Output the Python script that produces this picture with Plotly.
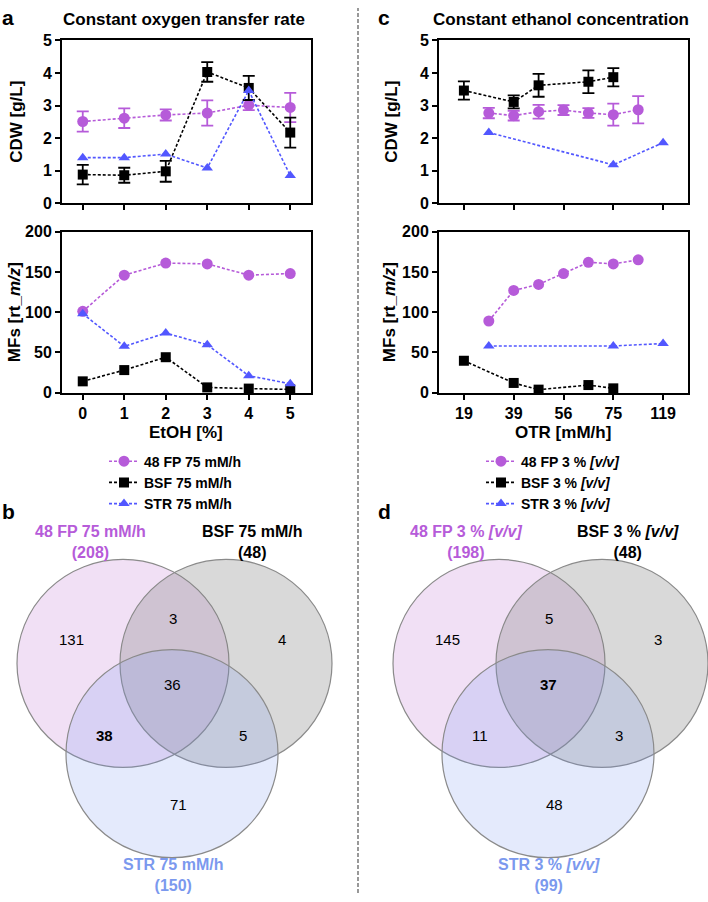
import plotly.graph_objects as go

W, H = 708, 902

# ---------------- data ----------------
etoh_labels = ["0", "1", "2", "3", "4", "5"]
etoh_pos = [0, 1, 2, 3, 4, 5]
cdw_ticks = [0, 1, 2, 3, 4, 5]
mf_ticks = [0, 50, 100, 150, 200]

# panel a : constant OTR (75 mM/h)
a_cdw_fp = [2.51, 2.61, 2.71, 2.77, 3.01, 2.94]
a_cdw_fp_err = [0.31, 0.30, 0.17, 0.39, 0.15, 0.45]
a_cdw_bsf = [0.88, 0.86, 0.98, 4.03, 3.54, 2.17]
a_cdw_bsf_err = [0.30, 0.23, 0.32, 0.30, 0.37, 0.46]
a_cdw_str = [1.40, 1.40, 1.51, 1.08, 3.46, 0.85]
a_mf_fp = [101, 146, 161, 160, 146, 148]
a_mf_bsf = [14, 28, 44, 6.5, 5, 4]
a_mf_str = [98, 57.5, 74, 59.5, 21, 11]

# panel c : constant ethanol (3 % v/v); x = position on the OTR axis
otr_labels = ["19", "39", "56", "75", "119"]
otr_ticks = [0, 1, 2, 3, 4]
c_fp_pos = [0.5, 1, 1.5, 2, 2.5, 3, 3.5]
c_bsf_pos = [0, 1, 1.5, 2.5, 3]
c_str_pos = [0.5, 3, 4]
c_cdw_fp = [2.77, 2.69, 2.81, 2.86, 2.77, 2.72, 2.87]
c_cdw_fp_err = [0.16, 0.15, 0.21, 0.15, 0.15, 0.34, 0.42]
c_cdw_bsf = [3.46, 3.11, 3.62, 3.73, 3.87]
c_cdw_bsf_err = [0.28, 0.20, 0.35, 0.35, 0.28]
c_cdw_str = [2.17, 1.18, 1.86]
c_mf_fp = [89, 127, 134.5, 148, 162, 160, 165]
c_mf_bsf = [39.6, 12, 3.7, 9.4, 5.3]
c_mf_str = [58, 58, 61]

# Venn counts: [only A, only B, only C, A&B, A&C, B&C, A&B&C]
venn_b_names = ["48 FP 75 mM/h", "BSF 75 mM/h", "STR 75 mM/h"]
venn_b_totals = [208, 48, 150]
venn_b_counts = [131, 4, 71, 3, 38, 5, 36]
venn_b_bold = 4
venn_d_names = ["48 FP 3 % <i>[v/v]</i>", "BSF 3 % <i>[v/v]</i>", "STR 3 % <i>[v/v]</i>"]
venn_d_totals = [198, 48, 99]
venn_d_counts = [145, 3, 48, 5, 11, 3, 37]
venn_d_bold = 6

legend_a = ["48 FP 75 mM/h", "BSF 75 mM/h", "STR 75 mM/h"]
legend_c = ["48 FP 3 % <i>[v/v]</i>", "BSF 3 % <i>[v/v]</i>", "STR 3 % <i>[v/v]</i>"]

# ---------------- style ----------------
PURPLE = "#b65bd9"
BLACK = "#000000"
BLUE = "#5257ff"
FONT = "Liberation Sans, Arial, sans-serif"
DASH = "3px,2px"


def px(x):
    return x / W


def py(y):
    return 1 - y / H


def b(s):
    return f"<b>{s}</b>"


fig = go.Figure()

series_style = {
    "fp": dict(color=PURPLE, symbol="circle", size=11),
    "bsf": dict(color=BLACK, symbol="square", size=10),
    "str": dict(color=BLUE, symbol="triangle-up", size=10),
}


def add(x, y, key, xa, ya, name, err=None, legend=None):
    st = series_style[key]
    tr = dict(
        x=x, y=y, mode="lines+markers", name=b(name),
        line=dict(color=st["color"], width=1.6, dash=DASH),
        marker=dict(color=st["color"], symbol=st["symbol"], size=st["size"]),
        xaxis=xa, yaxis=ya, cliponaxis=False,
        showlegend=legend is not None,
    )
    if legend is not None:
        tr["legend"] = legend
    if err is not None:
        tr["error_y"] = dict(type="data", array=err, color=st["color"], thickness=1.8, width=6)
    fig.add_trace(go.Scatter(**tr))


# panel a
add(etoh_pos, a_cdw_fp, "fp", "x", "y", legend_a[0], a_cdw_fp_err, "legend")
add(etoh_pos, a_cdw_bsf, "bsf", "x", "y", legend_a[1], a_cdw_bsf_err, "legend")
add(etoh_pos, a_cdw_str, "str", "x", "y", legend_a[2], None, "legend")
add(etoh_pos, a_mf_fp, "fp", "x2", "y2", legend_a[0])
add(etoh_pos, a_mf_bsf, "bsf", "x2", "y2", legend_a[1])
add(etoh_pos, a_mf_str, "str", "x2", "y2", legend_a[2])
# panel c
add(c_fp_pos, c_cdw_fp, "fp", "x3", "y3", legend_c[0], c_cdw_fp_err, "legend2")
add(c_bsf_pos, c_cdw_bsf, "bsf", "x3", "y3", legend_c[1], c_cdw_bsf_err, "legend2")
add(c_str_pos, c_cdw_str, "str", "x3", "y3", legend_c[2], None, "legend2")
add(c_fp_pos, c_mf_fp, "fp", "x4", "y4", legend_c[0])
add(c_bsf_pos, c_mf_bsf, "bsf", "x4", "y4", legend_c[1])
add(c_str_pos, c_mf_str, "str", "x4", "y4", legend_c[2])

# ---------------- axes ----------------
left_dom = [px(62), px(311)]
right_dom = [px(439), px(688)]
top_dom = [py(199), py(33)]
bot_dom = [py(392), py(228)]

common = dict(
    showline=True, linecolor="black", linewidth=2, mirror=True,
    ticks="outside", ticklen=5, tickwidth=2, tickcolor="black",
    showgrid=False, zeroline=False,
)
tick_font = dict(family=FONT, size=16, color="black")


def yax(dom, anchor, rng, ticks):
    return dict(domain=dom, anchor=anchor, range=rng, tickvals=ticks,
                ticktext=[b(t) for t in ticks], tickfont=tick_font, **common)


fig.update_layout(
    xaxis=dict(domain=left_dom, anchor="y", range=[-0.5, 5.5], tickvals=etoh_pos,
               showticklabels=False, **common),
    yaxis=yax(top_dom, "x", [0, 5], cdw_ticks),
    xaxis2=dict(domain=left_dom, anchor="y2", range=[-0.5, 5.5], tickvals=etoh_pos,
                ticktext=[b(t) for t in etoh_labels], tickfont=tick_font, **common),
    yaxis2=yax(bot_dom, "x2", [0, 200], mf_ticks),
    xaxis3=dict(domain=right_dom, anchor="y3", range=[-0.5, 4.5], tickvals=otr_ticks,
                showticklabels=False, **common),
    yaxis3=yax(top_dom, "x3", [0, 5], cdw_ticks),
    xaxis4=dict(domain=right_dom, anchor="y4", range=[-0.5, 4.5], tickvals=otr_ticks,
                ticktext=[b(t) for t in otr_labels], tickfont=tick_font, **common),
    yaxis4=yax(bot_dom, "x4", [0, 200], mf_ticks),
)

leg_font = dict(family=FONT, size=14, color="black")
fig.update_layout(
    legend=dict(x=px(104), y=py(446), xanchor="left", yanchor="top", font=leg_font,
                bgcolor="rgba(0,0,0,0)", itemwidth=30, tracegroupgap=0),
    legend2=dict(x=px(481), y=py(446), xanchor="left", yanchor="top", font=leg_font,
                 bgcolor="rgba(0,0,0,0)", itemwidth=30, tracegroupgap=0),
)

# ---------------- annotations ----------------
ann = []


def text(x, y, s, size=14, color="black", bold=False, angle=0, xanchor="center"):
    ann.append(dict(
        x=px(x), y=py(y), xref="paper", yref="paper", text=b(s) if bold else s,
        showarrow=False, xanchor=xanchor, yanchor="middle", textangle=angle,
        font=dict(family=FONT, size=size, color=color),
    ))


# panel letters and titles
text(8, 10, "a", 21, bold=True)
text(384, 10, "c", 21, bold=True)
text(8, 513, "b", 21, bold=True)
text(384, 513, "d", 21, bold=True)
text(184, 12, "Constant oxygen transfer rate", 17, bold=True)
text(561, 12, "Constant ethanol concentration", 17, bold=True)

# axis titles
for x0 in (17, 392):
    text(x0, 116, "CDW [g/L]", 17, bold=True, angle=-90)
    text(x0 - 3, 310, "MFs [rt_<i>m/z</i>]", 17, bold=True, angle=-90)
text(186, 433, "EtOH [%]", 17, bold=True)
text(563, 433, "OTR [mM/h]", 17, bold=True)

# ---------------- Venn diagrams ----------------
venn_circles = [(123, 668, "rgba(200,130,215,0.25)"),
                (226, 668, "rgba(128,128,128,0.30)"),
                (172, 760, "rgba(120,150,240,0.20)")]
R = 106
# region label positions (A, B, C, AB, AC, BC, ABC)
region_xy = [(71, 644), (282, 644), (178, 812), (173, 622), (104, 741), (243, 741), (172, 690)]
name_xy = [(90, 544), (252, 544), (173, 884)]
name_colors = [PURPLE, "black", "#7b99ee"]

shapes = []
for off, names, totals, counts, boldi in (
        (0, venn_b_names, venn_b_totals, venn_b_counts, venn_b_bold),
        (376, venn_d_names, venn_d_totals, venn_d_counts, venn_d_bold)):
    for cx, cy, fill in venn_circles:
        cx += off
        shapes.append(dict(type="circle", xref="paper", yref="paper",
                           x0=px(cx - R), x1=px(cx + R), y0=py(cy + R), y1=py(cy - R),
                           fillcolor=fill, line=dict(color="#8a8a8a", width=1.2), layer="below"))
    for i, (rx, ry) in enumerate(region_xy):
        text(rx + off, ry, str(counts[i]), 15, bold=(i == boldi))
    for i, (nx, ny) in enumerate(name_xy):
        ann.append(dict(
            x=px(nx + off), y=py(ny), xref="paper", yref="paper",
            text=f"<b>{names[i]}<br>({totals[i]})</b>", showarrow=False,
            xanchor="center", yanchor="middle", align="center",
            font=dict(family=FONT, size=16, color=name_colors[i]),
        ))

# central dashed separator
shapes.append(dict(type="line", xref="paper", yref="paper", x0=px(358), x1=px(358), y0=0, y1=1,
                   line=dict(color="#555555", width=1.2, dash="4px,2px")))

fig.update_layout(
    width=W, height=H, margin=dict(l=0, r=0, t=0, b=0),
    paper_bgcolor="white", plot_bgcolor="rgba(0,0,0,0)",
    annotations=ann, shapes=shapes,
    font=dict(family=FONT, color="black"),
)

fig.write_html("out.html")
